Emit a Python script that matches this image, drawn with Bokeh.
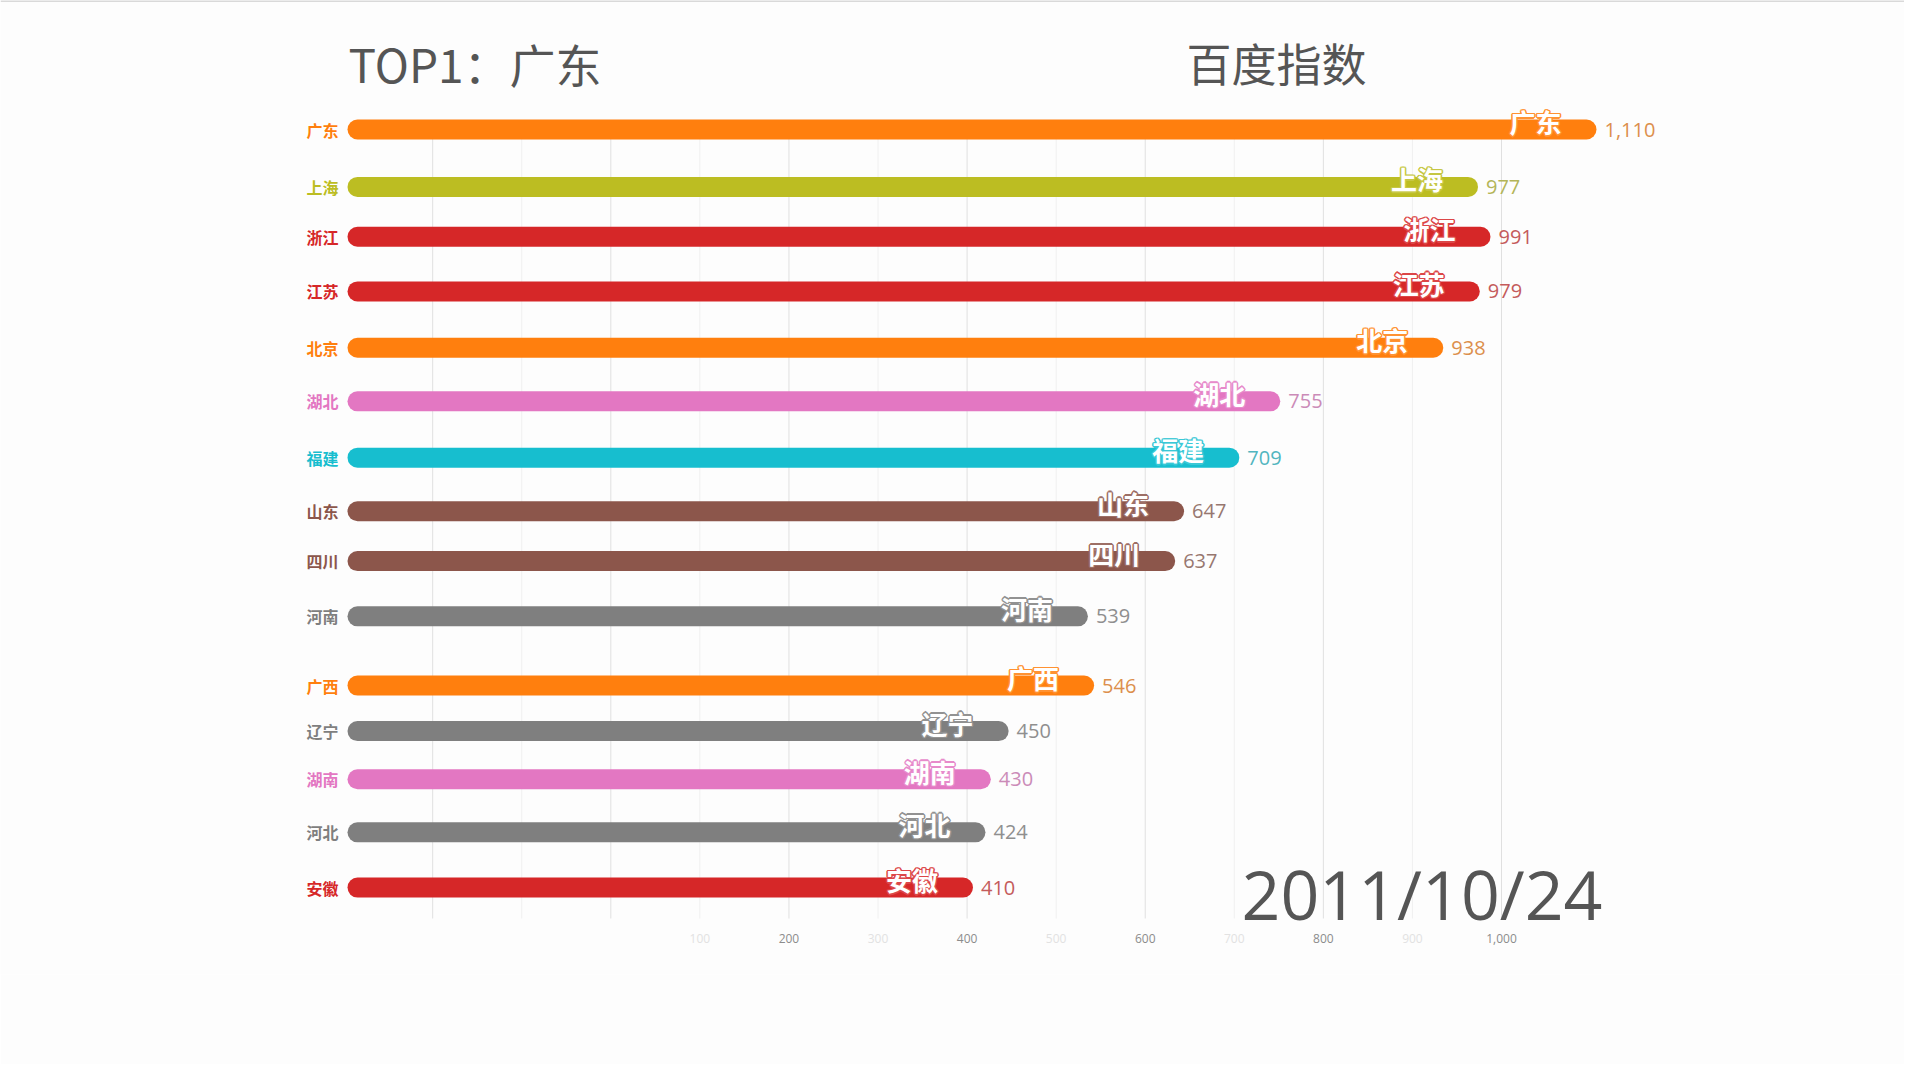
from bokeh.plotting import figure
from bokeh.models import (Range1d, LinearAxis, FixedTicker, NumeralTickFormatter,
                          LabelSet, Label, ColumnDataSource, Span)
from bokeh.core.properties import value
from bokeh.embed import file_html
from bokeh.resources import INLINE

# ---- data ----
provinces = ["广东", "上海", "浙江", "江苏", "北京", "湖北", "福建", "山东",
             "四川", "河南", "广西", "辽宁", "湖南", "河北", "安徽"]
values = [1110, 977, 991, 979, 938, 755, 709, 647, 637, 539, 546, 450, 430, 424, 410]
# animated rank position of each bar in this frame (0 = top)
rank_pos = [0.0, 1.06, 1.98, 2.99, 4.03, 5.02, 6.06, 7.05, 7.97, 8.99,
            10.27, 11.11, 12.0, 12.98, 14.0]
bar_colors = ["#ff7f0e", "#bcbd22", "#d62728", "#d62728", "#ff7f0e", "#e377c2", "#17becf",
              "#8c564b", "#8c564b", "#7f7f7f", "#ff7f0e", "#7f7f7f", "#e377c2", "#7f7f7f", "#d62728"]
major_ticks = [-200, 0, 200, 400, 600, 800, 1000]
minor_ticks = [-100, 100, 300, 500, 700, 900]
title_text = "TOP1：" + provinces[0]
metric_text = "百度指数"
date_text = "2011/10/24"

# ---- layout ----
W, H = 1904, 1064
BOTTOM = 90                      # reserved panel under the frame
FB = H - BOTTOM                  # frame bottom (px)
S = 0.8907                       # px per value unit
X0 = -610.3 / S
X1 = X0 + W / S
BASE = (347 - 610.3) / S         # axis start where bars begin
ROW0, ROW = 129.0, 54.15         # px of rank 0, px per rank
Y_END = (0 - ROW0) / ROW
Y_START = (FB - ROW0) / ROW


def px_x(px):
    return (px - 610.3) / S


def px_y(py):
    return (py - ROW0) / ROW


bar_w = 20
cap = (bar_w / 2) / S


def mix(c, target="#a8a8a8", t=0.4):
    a = [int(c[i:i + 2], 16) for i in (1, 3, 5)]
    b = [int(target[i:i + 2], 16) for i in (1, 3, 5)]
    return "#" + "".join(f"{round(x * (1 - t) + y * t):02x}" for x, y in zip(a, b))


src = ColumnDataSource(dict(
    name=provinces,
    value=values,
    pos=rank_pos,
    color=bar_colors,
    vcolor=[mix(c) for c in bar_colors],
    ocolor=[mix(c, "#ffffff", 0.15) for c in bar_colors],
    x0=[BASE + cap] * len(values),
    x1=[v - cap - 3 / S for v in values],
    base=[BASE] * len(values),
    vlabel=[f"{v:,}" for v in values],
))

grid_top, grid_bot = px_y(126), px_y(918)
gmaj = ColumnDataSource(dict(x=major_ticks, y0=[grid_top] * len(major_ticks), y1=[grid_bot] * len(major_ticks)))
gmin = ColumnDataSource(dict(x=minor_ticks, y0=[grid_top] * len(minor_ticks), y1=[grid_bot] * len(minor_ticks)))

p = figure(width=W, height=H, x_range=Range1d(X0, X1), y_range=Range1d(Y_START, Y_END),
           output_backend="svg", toolbar_location=None,
           x_axis_type=None, y_axis_type=None,
           min_border_left=0, min_border_right=0, min_border_top=0, min_border_bottom=BOTTOM)
p.outline_line_color = None
p.background_fill_color = "#fdfdfd"
p.border_fill_color = "#fdfdfd"

# thin grey strip along the top edge
p.add_layout(Span(location=Y_END, dimension="width", line_color="#d9d9d9", line_width=3))

# grid lines from the tick lists
p.segment(x0="x", y0="y0", x1="x", y1="y1", source=gmin, line_color="#f0f0f0", line_width=1)
p.segment(x0="x", y0="y0", x1="x", y1="y1", source=gmaj, line_color="#e0e0e0", line_width=1)

ax1 = LinearAxis(ticker=FixedTicker(ticks=major_ticks), formatter=NumeralTickFormatter(format="0,0"),
                 fixed_location=grid_bot)
ax2 = LinearAxis(ticker=FixedTicker(ticks=minor_ticks), formatter=NumeralTickFormatter(format="0,0"),
                 fixed_location=grid_bot)
for ax, col in ((ax1, "#8c8c8c"), (ax2, "#e2e2e2")):
    ax.axis_line_color = None
    ax.major_tick_line_color = None
    ax.minor_tick_line_color = None
    ax.major_label_text_color = col
    ax.major_label_text_font = "Open Sans"
    ax.major_label_text_font_size = "12px"
    ax.major_label_standoff = 9
    ax.major_label_overrides = {t: "" for t in (major_ticks + minor_ticks) if t <= 0}
p.add_layout(ax1, "below")
p.add_layout(ax2, "below")

p.segment(x0="x0", y0="pos", x1="x1", y1="pos", source=src, line_color="color",
          line_width=bar_w, line_cap="round")

# left labels
p.add_layout(LabelSet(x="base", y="pos", text="name", source=src, x_offset=-9,
                      text_align="right", text_baseline="middle", text_color="color",
                      text_font=value("Noto Sans CJK SC"), text_font_style="bold",
                      text_font_size="16px"))
# value labels
p.add_layout(LabelSet(x="value", y="pos", text="vlabel", source=src, x_offset=5,
                      text_align="left", text_baseline="middle", text_color="vcolor",
                      text_font=value("Open Sans"), text_font_size="20px"))
# in-bar labels: coloured outline (offset copies) then white fill
IN_DX, IN_DY = -38, 8
for dx, dy in ((-1.5, 0), (1.5, 0), (0, -1.5), (0, 1.5), (-1, -1), (1, 1), (-1, 1), (1, -1)):
    p.add_layout(LabelSet(x="value", y="pos", text="name", source=src,
                          x_offset=IN_DX + dx, y_offset=IN_DY + dy,
                          text_align="right", text_baseline="middle", text_color="ocolor",
                          text_font=value("Noto Sans CJK SC"), text_font_style="bold",
                          text_font_size="26px"))
p.add_layout(LabelSet(x="value", y="pos", text="name", source=src, x_offset=IN_DX, y_offset=IN_DY,
                      text_align="right", text_baseline="middle", text_color="white",
                      text_font=value("Noto Sans CJK SC"), text_font_style="bold",
                      text_font_size="26px"))

p.add_layout(Label(x=px_x(348), y=px_y(62), text=title_text, text_font="Noto Sans CJK SC",
                   text_font_size="46px", text_color="#555555", text_baseline="alphabetic"))
p.add_layout(Label(x=px_x(1186), y=px_y(62), text=metric_text, text_font="Noto Sans CJK SC",
                   text_font_size="45px", text_color="#555555", text_baseline="alphabetic"))
p.add_layout(Label(x=px_x(1602), y=px_y(893), text=date_text, text_font="Open Sans",
                   text_font_size="68px", text_color="#555555", text_baseline="alphabetic",
                   text_align="right"))

open("out.html", "w").write(file_html(p, INLINE))
